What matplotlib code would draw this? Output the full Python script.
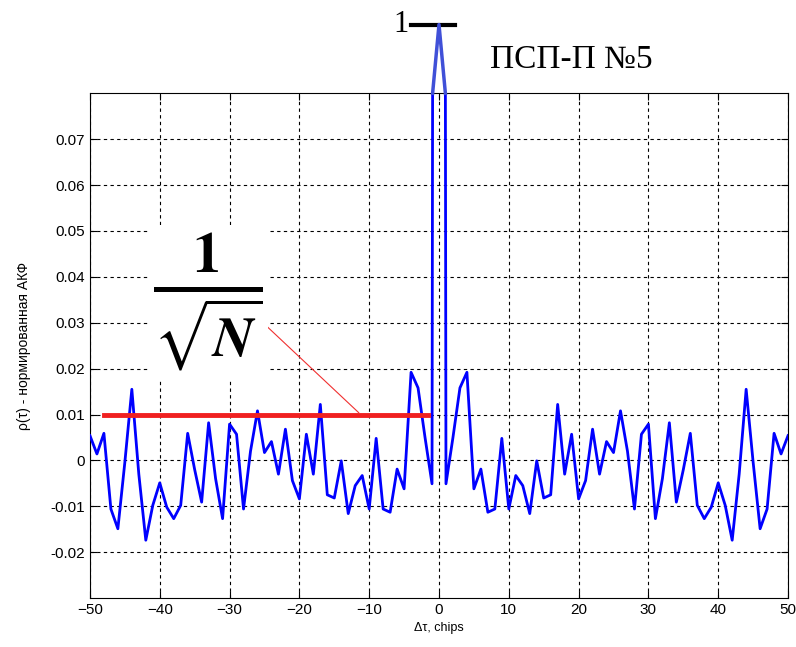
import numpy as np
import matplotlib.pyplot as plt

plt.rcParams['font.family'] = ['Liberation Sans', 'DejaVu Sans']
plt.rcParams['mathtext.fontset'] = 'stix'

# normalised ACF for lags 1..50 (symmetric), lag 0 = 1
half = [-0.0051, 0.005, 0.0158, 0.0192, -0.0062, -0.0019, -0.0113, -0.0106, 0.0048, -0.0106,
        -0.0033, -0.0055, -0.0116, -0.0001, -0.0082, -0.0075, 0.0122, -0.003, 0.0057, -0.0084,
        -0.0044, 0.0068, -0.003, 0.0041, 0.0017, 0.0108, 0.002, -0.0106, 0.0057, 0.0079,
        -0.0127, -0.004, 0.0082, -0.0091, -0.002, 0.0059, -0.0098, -0.0127, -0.0102, -0.0049,
        -0.0098, -0.0174, -0.003, 0.0155, -0.0004, -0.0149, -0.0106, 0.0059, 0.0014, 0.0054]
peak = 1.0
lags = np.arange(-50, 51)
rho = np.array(half[::-1] + [peak] + half)

threshold = 0.01          # 1/sqrt(N)
thr_x = [-48, -1.6]
ytop = 0.08
peak_level = 0.095        # where the off-scale peak is drawn (axis break)

fig = plt.figure(figsize=(7.96, 6.47), dpi=100)
ax = fig.add_axes([0.113, 0.0757, 0.877, 0.780])

ax.plot(lags, rho, color='#0000ff', lw=2, zorder=3)

# part of the main peak above the axes, compressed
xc = 1 - (ytop - half[0]) / (peak - half[0])
ax.plot([-xc, 0, xc], [ytop, peak_level, ytop], color='#4050d8', lw=2.5,
        clip_on=False, zorder=3)

ax.plot(thr_x, [threshold, threshold], color='#f02020', lw=3.5, zorder=4)
ax.plot([-25, -11.5], [0.0297, 0.0104], color='#f03030', lw=0.8, zorder=4)

ax.set_xlim(-50, 50)
ax.set_ylim(-0.03, ytop)
ax.set_xticks(np.arange(-50, 51, 10))
ax.set_yticks(np.round(np.arange(-0.02, 0.071, 0.01), 2))
ax.set_yticklabels(['-0.02', '-0.01', '0', '0.01', '0.02', '0.03', '0.04', '0.05', '0.06', '0.07'])
ax.tick_params(direction='in', labelsize=11, top=True, right=True, length=5)
ax.grid(True, color='black', linestyle=(0, (3, 3)), lw=0.8)
ax.set_xlabel('Δτ, chips', fontsize=9, labelpad=4)
ax.set_ylabel('ρ(τ) - нормированная АКФ', fontsize=10, labelpad=14)

# off-scale peak marker
ax.plot([-4, 2.3], [peak_level, peak_level], color='black', lw=3, clip_on=False)
ax.text(-4.3, peak_level, '1', fontsize=22, family='Liberation Serif',
        ha='right', va='center')
ax.text(7.3, 0.0874, 'ПСП-П №5', fontsize=24, family='Liberation Serif',
        ha='left', va='center')

ax.text(-33.1, 0.0345, r'$\frac{\mathbf{1}}{\sqrt{\mathbfit{N}}}$', fontsize=58,
        ha='center', va='center', zorder=5,
        bbox=dict(facecolor='white', edgecolor='none', pad=4))

fig.savefig('out.png', dpi=100)
